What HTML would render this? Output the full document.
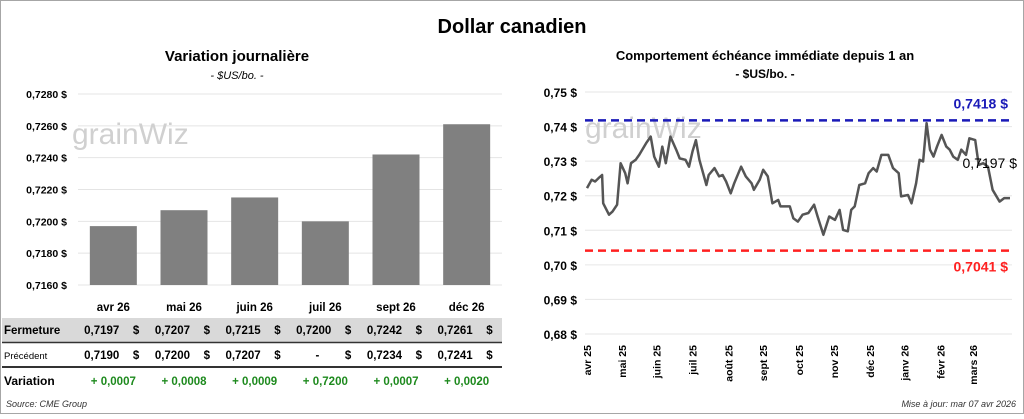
<!DOCTYPE html>
<html><head><meta charset="utf-8"><style>
body{margin:0;width:1024px;height:414px;background:#fff;overflow:hidden;font-family:"Liberation Sans",sans-serif}
svg text{font-family:"Liberation Sans",sans-serif}
</style></head><body>
<svg id="s" width="1024" height="414" viewBox="0 0 1024 414">
<rect x="0.5" y="0.5" width="1023" height="413" fill="#fff" stroke="#a6a6a6"/>
<text x="512" y="33" text-anchor="middle" font-size="20" font-weight="bold">Dollar canadien</text>
<text x="237" y="61" text-anchor="middle" font-size="15" font-weight="bold">Variation  journalière</text>
<text x="237" y="79" text-anchor="middle" font-size="11" font-style="italic">- $US/bo. -</text>
<text x="765" y="60" text-anchor="middle" font-size="13" font-weight="bold">Comportement échéance immédiate depuis 1 an</text>
<text x="765" y="78" text-anchor="middle" font-size="12" font-weight="bold">- $US/bo. -</text>
<g id="left"></g>
<g id="right"></g>
<g id="table"></g>
<text x="6" y="407" font-size="9" font-style="italic" fill="#333">Source: CME Group</text>
<text x="1016" y="407" text-anchor="end" font-size="9" font-style="italic" fill="#333">Mise à jour: mar 07 avr 2026</text>
</svg>
<script>
const NS="http://www.w3.org/2000/svg";
const barCats=["avr 26","mai 26","juin 26","juil 26","sept 26","déc 26"];
const barValues=[0.7197,0.7207,0.7215,0.7200,0.7242,0.7261];
const prevValues=[0.7190,0.7200,0.7207,null,0.7234,0.7241];
const varLabels=["+ 0,0007","+ 0,0008","+ 0,0009","+ 0,7200","+ 0,0007","+ 0,0020"];
const leftTicks=[0.7160,0.7180,0.7200,0.7220,0.7240,0.7260,0.7280];
const lineDays=[0,4,7,10,13,14,19,22,26,29,33,35,38,42,45,51,55,58,62,65,68,72,77,80,85,88,91,94,97,103,105,110,114,117,120,124,127,133,137,142,144,149,152,156,160,165,167,175,178,182,186,191,196,199,204,209,214,218,221,225,228,231,235,240,243,247,250,254,260,264,269,271,277,280,284,287,290,293,296,299,302,306,310,313,316,320,323,327,330,335,338,342,346,350,356,360,365];
const lineValues=[0.7222,0.7246,0.7241,0.7251,0.7260,0.7178,0.7145,0.7154,0.7174,0.7294,0.7265,0.7236,0.7294,0.7304,0.7318,0.7352,0.7371,0.7313,0.7284,0.7342,0.7294,0.7371,0.7333,0.7308,0.7304,0.7284,0.7328,0.7361,0.7304,0.7231,0.7260,0.7280,0.7256,0.7260,0.7241,0.7207,0.7236,0.7284,0.7256,0.7236,0.7217,0.7246,0.7275,0.7256,0.7178,0.7188,0.7169,0.7169,0.7135,0.7125,0.7145,0.7150,0.7174,0.7140,0.7087,0.7140,0.7130,0.7159,0.7101,0.7097,0.7159,0.7169,0.7231,0.7236,0.7265,0.7280,0.7270,0.7318,0.7318,0.7280,0.7265,0.7198,0.7202,0.7178,0.7236,0.7304,0.7299,0.7410,0.7333,0.7313,0.7342,0.7376,0.7342,0.7333,0.7313,0.7304,0.7333,0.7318,0.7366,0.7361,0.7289,0.7294,0.7284,0.7217,0.7183,0.7193,0.7193];
const rightTicks=[0.68,0.69,0.70,0.71,0.72,0.73,0.74,0.75];
const monthLabels=["avr 25","mai 25","juin 25","juil 25","août 25","sept 25","oct 25","nov 25","déc 25","janv 26","févr 26","mars 26"];
const monthDays=[0,30,60,91,122,152,183,213,244,274,305,333];
const highVal=0.7418, lowVal=0.7041, lastVal=0.7197;

function el(tag,attrs,parent,txt){const e=document.createElementNS(NS,tag);for(const k in attrs)e.setAttribute(k,attrs[k]);if(txt!=null)e.textContent=txt;parent.appendChild(e);return e;}
const fmt=(v,d)=>v.toFixed(d).replace('.',',');

// left bar chart
const L=document.getElementById('left');
const lx0=78,lx1=502,ly=v=>285-(v-0.7160)/(0.7280-0.7160)*191;
const bw=(lx1-lx0)/barCats.length;
leftTicks.forEach(t=>{
  const g=el('line',{x1:lx0,x2:lx1,y1:ly(t),y2:ly(t),stroke:'#e4e4e4'},L);
  
  const tx=el('text',{x:67,y:ly(t)+4,'text-anchor':'end','font-size':10.5,'font-weight':'bold'},L,fmt(t,4)+' $');
  
});
el('text',{x:72,y:144,'font-size':30,fill:'#d0d0d0'},L,'grainWiz');
barValues.forEach((v,i)=>{
  const cx=lx0+bw*(i+0.5);
  const r=el('rect',{x:cx-23.5,y:ly(v),width:47,height:285-ly(v),fill:'#808080'},L);
  
  
});
// table
const T=document.getElementById('table');
el('rect',{x:2,y:318,width:500,height:24,fill:'#d9d9d9'},T);
el('line',{x1:2,x2:502,y1:342.5,y2:342.5,stroke:'#333',"stroke-width":1.5},T);
el('line',{x1:2,x2:502,y1:367,y2:367,stroke:'#333',"stroke-width":2},T);
el('text',{x:4,y:334,'font-size':11.5,'font-weight':'bold'},T,'Fermeture');
el('text',{x:4,y:359,'font-size':9.5},T,'Précédent');
el('text',{x:4,y:385,'font-size':12,'font-weight':'bold'},T,'Variation');
barCats.forEach((c,i)=>{
  const cx=lx0+bw*(i+0.5);
  const h=el('text',{x:cx,y:311,'text-anchor':'middle','font-size':11.5,'font-weight':'bold'},T,c);
  
  const a=el('text',{x:cx+6,y:334,'text-anchor':'end','font-size':11.5,'font-weight':'bold'},T,fmt(barValues[i],4));
  
  el('text',{x:cx+26,y:334,'text-anchor':'end','font-size':11.5,'font-weight':'bold'},T,'$');
  const b=el('text',{x:prevValues[i]==null?cx-6:cx+6,y:359,'text-anchor':'end','font-size':11.5,'font-weight':'bold'},T,prevValues[i]==null?'-':fmt(prevValues[i],4));
  
  el('text',{x:cx+26,y:359,'text-anchor':'end','font-size':11.5,'font-weight':'bold'},T,'$');
  const d=el('text',{x:cx,y:385,'text-anchor':'middle','font-size':11.5,'font-weight':'bold',fill:'#1e8a1e'},T,varLabels[i]);
  
});

// right line chart
const R=document.getElementById('right');
const rx0=587,rx1=1010,rx=d=>rx0+d/365*(rx1-rx0),ry=v=>334-(v-0.68)/0.07*242;
rightTicks.forEach(t=>{
  const g=el('line',{x1:585,x2:1012,y1:ry(t),y2:ry(t),stroke:'#e6e6e6'},R);
  
  const tx=el('text',{x:577,y:ry(t)+5,'text-anchor':'end','font-size':12,'font-weight':'bold'},R,fmt(t,2)+' $');
  
});
el('text',{x:585,y:138,'font-size':30,fill:'#d0d0d0'},R,'grainWiz');
monthLabels.forEach((m,i)=>{
  const x=rx(monthDays[i])+4;
  const t=el('text',{x:0,y:0,transform:`translate(${x},345) rotate(-90)`,'text-anchor':'end','font-size':10.5,'font-weight':'bold'},R,m);
  
});
const hl=el('line',{x1:585,x2:1012,y1:ry(highVal),y2:ry(highVal),stroke:'#1a1ab8','stroke-width':2.5,'stroke-dasharray':'8 5'},R);

const ll=el('line',{x1:585,x2:1012,y1:ry(lowVal),y2:ry(lowVal),stroke:'#ff2020','stroke-width':2.5,'stroke-dasharray':'8 5'},R);

const n=Math.min(lineDays.length,lineValues.length);
let d='';for(let i=0;i<n;i++)d+=(i?'L':'M')+rx(lineDays[i]).toFixed(1)+' '+ry(lineValues[i]).toFixed(1);
const p=el('path',{d:d,fill:'none',stroke:'#555','stroke-width':2.5,'stroke-linejoin':'round'},R);

const t1=el('text',{x:1008,y:ry(highVal)-12,'text-anchor':'end','font-size':14,'font-weight':'bold',fill:'#1a1ab8'},R,fmt(highVal,4)+'  $');

const t2=el('text',{x:1008,y:ry(lowVal)+21,'text-anchor':'end','font-size':14,'font-weight':'bold',fill:'#ff2020'},R,fmt(lowVal,4)+'  $');

const t3=el('text',{x:1017,y:ry(lastVal)-29,'text-anchor':'end','font-size':14},R,fmt(lastVal,4)+' $');

</script>
</body></html>
